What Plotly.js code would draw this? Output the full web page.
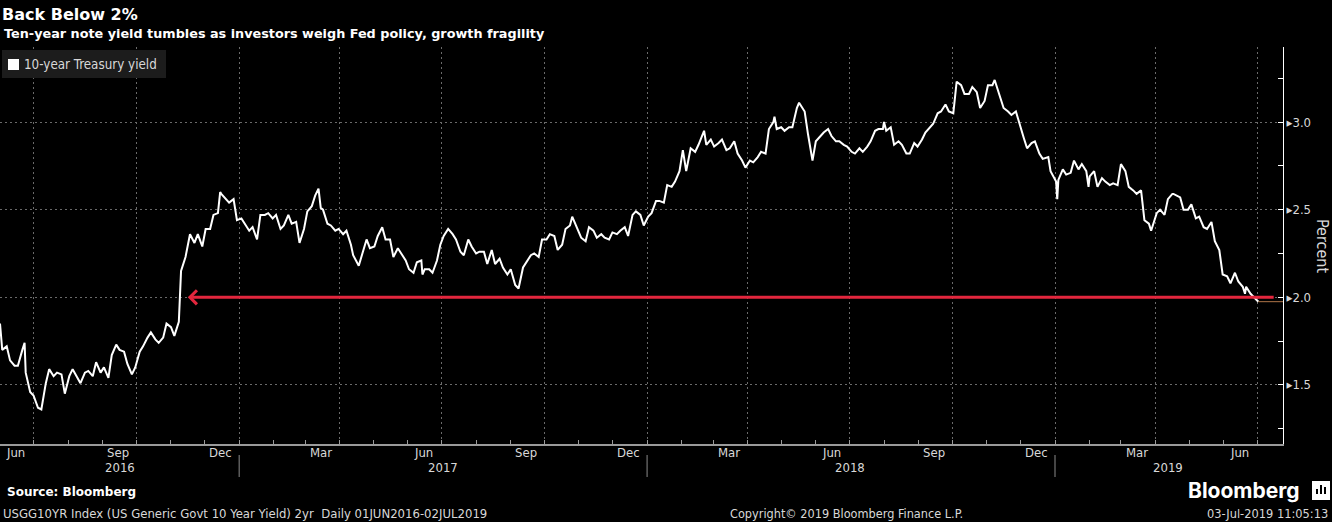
<!DOCTYPE html>
<html>
<head>
<meta charset="utf-8">
<script src="https://cdn.plot.ly/plotly-3.0.1.min.js"></script>
<style>
  html, body { margin: 0; padding: 0; background: #000; }
  #chart { width: 1332px; height: 522px; }
</style>
</head>
<body>
<div id="chart"></div>
<script>
// 10-year Treasury yield (roughly twice a week)
const dates = [
  // 2016
  '2016-06-01','2016-06-03','2016-06-07','2016-06-10','2016-06-14','2016-06-17','2016-06-21','2016-06-23','2016-06-24','2016-06-28',
  '2016-07-01','2016-07-05','2016-07-08','2016-07-12','2016-07-15','2016-07-19','2016-07-22','2016-07-26','2016-07-29',
  '2016-08-02','2016-08-05','2016-08-09','2016-08-12','2016-08-16','2016-08-19','2016-08-23','2016-08-26','2016-08-30',
  '2016-09-02','2016-09-06','2016-09-09','2016-09-13','2016-09-16','2016-09-20','2016-09-23','2016-09-27','2016-09-30',
  '2016-10-04','2016-10-07','2016-10-11','2016-10-14','2016-10-18','2016-10-21','2016-10-25','2016-10-28',
  '2016-11-01','2016-11-04','2016-11-08','2016-11-09','2016-11-10','2016-11-14','2016-11-18','2016-11-22','2016-11-25','2016-11-29',
  '2016-12-02','2016-12-06','2016-12-09','2016-12-13','2016-12-15','2016-12-16','2016-12-20','2016-12-23','2016-12-27','2016-12-30',
  // 2017
  '2017-01-03','2017-01-06','2017-01-10','2017-01-13','2017-01-17','2017-01-20','2017-01-24','2017-01-27','2017-01-31',
  '2017-02-03','2017-02-07','2017-02-10','2017-02-14','2017-02-17','2017-02-21','2017-02-24','2017-02-28',
  '2017-03-03','2017-03-07','2017-03-10','2017-03-13','2017-03-15','2017-03-17','2017-03-21','2017-03-24','2017-03-28','2017-03-31',
  '2017-04-04','2017-04-07','2017-04-11','2017-04-13','2017-04-18','2017-04-21','2017-04-25','2017-04-28',
  '2017-05-02','2017-05-05','2017-05-09','2017-05-12','2017-05-16','2017-05-19','2017-05-23','2017-05-26','2017-05-30',
  '2017-06-02','2017-06-06','2017-06-09','2017-06-13','2017-06-14','2017-06-16','2017-06-20','2017-06-23','2017-06-27','2017-06-30',
  '2017-07-03','2017-07-07','2017-07-11','2017-07-14','2017-07-18','2017-07-21','2017-07-25','2017-07-28',
  '2017-08-01','2017-08-04','2017-08-08','2017-08-11','2017-08-15','2017-08-18','2017-08-22','2017-08-25','2017-08-29',
  '2017-09-01','2017-09-05','2017-09-08','2017-09-12','2017-09-15','2017-09-19','2017-09-22','2017-09-26','2017-09-29',
  '2017-10-03','2017-10-06','2017-10-10','2017-10-13','2017-10-17','2017-10-20','2017-10-24','2017-10-26','2017-10-31',
  '2017-11-03','2017-11-07','2017-11-10','2017-11-14','2017-11-17','2017-11-21','2017-11-24','2017-11-28',
  '2017-12-01','2017-12-05','2017-12-08','2017-12-12','2017-12-15','2017-12-19','2017-12-22','2017-12-26','2017-12-29',
  // 2018
  '2018-01-02','2018-01-05','2018-01-09','2018-01-12','2018-01-16','2018-01-19','2018-01-23','2018-01-26','2018-01-30',
  '2018-02-02','2018-02-05','2018-02-09','2018-02-13','2018-02-16','2018-02-21','2018-02-23','2018-02-27',
  '2018-03-02','2018-03-06','2018-03-09','2018-03-13','2018-03-16','2018-03-20','2018-03-23','2018-03-27','2018-03-30',
  '2018-04-03','2018-04-06','2018-04-10','2018-04-13','2018-04-17','2018-04-20','2018-04-24','2018-04-25','2018-04-27',
  '2018-05-01','2018-05-04','2018-05-08','2018-05-11','2018-05-15','2018-05-17','2018-05-22','2018-05-25','2018-05-29',
  '2018-06-01','2018-06-05','2018-06-08','2018-06-12','2018-06-15','2018-06-19','2018-06-22','2018-06-26','2018-06-29',
  '2018-07-03','2018-07-06','2018-07-10','2018-07-13','2018-07-17','2018-07-20','2018-07-24','2018-07-27','2018-07-31',
  '2018-08-01','2018-08-03','2018-08-07','2018-08-10','2018-08-14','2018-08-17','2018-08-21','2018-08-24','2018-08-28','2018-08-31',
  '2018-09-04','2018-09-07','2018-09-11','2018-09-14','2018-09-18','2018-09-21','2018-09-25','2018-09-28',
  '2018-10-02','2018-10-05','2018-10-09','2018-10-12','2018-10-16','2018-10-19','2018-10-23','2018-10-26','2018-10-30',
  '2018-11-02','2018-11-06','2018-11-08','2018-11-13','2018-11-16','2018-11-20','2018-11-23','2018-11-27','2018-11-30',
  '2018-12-04','2018-12-07','2018-12-11','2018-12-14','2018-12-18','2018-12-21','2018-12-26','2018-12-28','2018-12-31',
  // 2019
  '2019-01-02','2019-01-03','2019-01-04','2019-01-08','2019-01-11','2019-01-15','2019-01-18','2019-01-22','2019-01-25','2019-01-29','2019-01-31',
  '2019-02-01','2019-02-05','2019-02-08','2019-02-12','2019-02-15','2019-02-19','2019-02-22','2019-02-26','2019-02-28',
  '2019-03-01','2019-03-05','2019-03-08','2019-03-12','2019-03-15','2019-03-19','2019-03-22','2019-03-26','2019-03-28',
  '2019-04-02','2019-04-05','2019-04-09','2019-04-12','2019-04-16','2019-04-17','2019-04-23','2019-04-26','2019-04-30',
  '2019-05-03','2019-05-07','2019-05-10','2019-05-14','2019-05-17','2019-05-21','2019-05-24','2019-05-28','2019-05-31',
  '2019-06-04','2019-06-07','2019-06-11','2019-06-14','2019-06-18','2019-06-20','2019-06-21','2019-06-25','2019-06-28',
  '2019-07-02'
];

const yields = [
  // 2016
  1.85,1.70,1.72,1.64,1.61,1.61,1.70,1.74,1.57,1.46,
  1.44,1.37,1.36,1.51,1.59,1.55,1.57,1.56,1.45,
  1.55,1.59,1.54,1.51,1.57,1.58,1.55,1.63,1.57,
  1.60,1.54,1.67,1.73,1.70,1.69,1.62,1.56,1.60,
  1.69,1.72,1.77,1.80,1.76,1.74,1.77,1.85,
  1.83,1.78,1.86,2.07,2.15,2.23,2.36,2.31,2.36,2.29,
  2.39,2.39,2.47,2.48,2.60,2.59,2.56,2.54,2.56,2.44,
  // 2017
  2.45,2.42,2.38,2.40,2.33,2.47,2.47,2.48,2.45,
  2.47,2.39,2.41,2.47,2.42,2.43,2.31,2.39,
  2.49,2.52,2.58,2.62,2.51,2.50,2.42,2.41,2.38,2.39,
  2.36,2.38,2.30,2.24,2.18,2.24,2.33,2.28,
  2.29,2.35,2.40,2.33,2.33,2.23,2.28,2.25,2.21,
  2.16,2.14,2.20,2.21,2.13,2.16,2.16,2.14,2.21,2.30,
  2.35,2.39,2.36,2.33,2.26,2.24,2.33,2.29,
  2.25,2.26,2.26,2.19,2.27,2.19,2.22,2.17,2.13,
  2.16,2.07,2.05,2.17,2.20,2.24,2.25,2.23,2.33,
  2.33,2.36,2.35,2.27,2.30,2.39,2.41,2.46,2.38,
  2.34,2.32,2.40,2.38,2.34,2.36,2.34,2.33,
  2.37,2.36,2.38,2.40,2.35,2.47,2.49,2.47,2.41,
  // 2018
  2.46,2.48,2.55,2.55,2.54,2.64,2.63,2.66,2.72,
  2.84,2.72,2.85,2.83,2.87,2.95,2.87,2.90,
  2.86,2.88,2.90,2.84,2.85,2.89,2.82,2.78,2.74,
  2.78,2.77,2.80,2.83,2.82,2.96,3.00,3.03,2.96,
  2.97,2.95,2.97,2.97,3.08,3.11,3.06,2.93,2.78,
  2.89,2.92,2.94,2.96,2.92,2.89,2.89,2.87,2.86,
  2.83,2.82,2.85,2.83,2.86,2.89,2.95,2.96,2.96,
  3.00,2.95,2.97,2.87,2.89,2.87,2.82,2.82,2.88,2.86,
  2.90,2.94,2.97,2.99,3.05,3.06,3.10,3.06,
  3.05,3.23,3.21,3.16,3.16,3.20,3.17,3.08,3.12,
  3.21,3.21,3.24,3.14,3.08,3.06,3.04,3.06,2.99,
  2.91,2.85,2.88,2.89,2.82,2.79,2.80,2.72,2.68,
  // 2019
  2.66,2.56,2.67,2.73,2.70,2.71,2.78,2.73,2.76,2.72,2.63,
  2.69,2.72,2.63,2.68,2.66,2.64,2.65,2.64,2.72,
  2.76,2.72,2.63,2.61,2.59,2.61,2.44,2.42,2.38,
  2.48,2.50,2.47,2.56,2.59,2.59,2.57,2.50,2.50,
  2.53,2.45,2.46,2.40,2.39,2.43,2.32,2.27,2.13,
  2.12,2.08,2.14,2.09,2.06,2.02,2.06,2.02,2.00,
  1.975
];

// axis labels
const monthLabelDates = ['2016-06-15','2016-09-15','2016-12-15','2017-03-15','2017-06-15','2017-09-15',
  '2017-12-15','2018-03-15','2018-06-15','2018-09-15','2018-12-15','2019-03-15','2019-06-15'];
const monthLabels = ['Jun','Sep','Dec','Mar','Jun','Sep','Dec','Mar','Jun','Sep','Dec','Mar','Jun'];
const yearLabelDates = ['2016-09-16','2017-07-02','2018-07-02','2019-04-12'];
const yearLabels = ['2016','2017','2018','2019'];
const yearBreaks = ['2017-01-01','2018-01-01','2019-01-01'];
const quarterTicks = ['2016-07-01','2016-10-01','2017-01-01','2017-04-01','2017-07-01','2017-10-01',
  '2018-01-01','2018-04-01','2018-07-01','2018-10-01','2019-01-01','2019-04-01','2019-07-01'];
const yTicks = [1.5, 2.0, 2.5, 3.0];

const threshold = 2.0;
const arrowHead = '2016-11-16';
const arrowTail = '2019-07-17';
const xStart = '2016-06-01';
const xEnd = '2019-07-24';

// pixel helpers for things placed around the plot area
const plotLeft = 0, plotRight = 1283, plotTop = 47, plotBottom = 444;
function px(x) { return (x - plotLeft) / (plotRight - plotLeft); }
function py(y) { return (plotBottom - y) / (plotBottom - plotTop); }

const labelFont = 'DejaVu Sans Condensed, Liberation Sans Narrow, DejaVu Sans, sans-serif';
const boldFont = 'DejaVu Sans, Liberation Sans, sans-serif';
const textColor = '#d8d8d8';

let yieldTrace = {
  x: dates,
  y: yields,
  type: 'scatter',
  mode: 'lines',
  name: '10-year Treasury yield',
  line: { color: '#ffffff', width: 2 },
  showlegend: false,
  hoverinfo: 'x+y'
};

let annotations = [];

// month labels under the axis
monthLabelDates.forEach((d, i) => {
  annotations.push({
    x: d, xref: 'x', y: py(452), yref: 'paper', text: monthLabels[i],
    showarrow: false, xanchor: 'center', yanchor: 'middle',
    font: { family: labelFont, size: 13, color: textColor }
  });
});
// year labels
yearLabelDates.forEach((d, i) => {
  annotations.push({
    x: d, xref: 'x', y: py(467), yref: 'paper', text: yearLabels[i],
    showarrow: false, xanchor: 'center', yanchor: 'middle',
    font: { family: labelFont, size: 13, color: textColor }
  });
});

// red arrow at 2%
annotations.push({
  x: arrowHead, y: threshold, xref: 'x', yref: 'y',
  ax: arrowTail, ay: threshold, axref: 'x', ayref: 'y',
  text: '', showarrow: true, arrowhead: 4, arrowsize: 0.9, arrowwidth: 3,
  arrowcolor: '#e3263d', standoff: 0
});

// subtitle
annotations.push({
  x: px(2), y: py(33), xref: 'paper', yref: 'paper', xanchor: 'left', yanchor: 'middle',
  text: '<b>Ten-year note yield tumbles as investors weigh Fed policy, growth fragility</b>',
  showarrow: false, font: { family: boldFont, size: 12.8, color: '#ffffff' }
});

// legend text
annotations.push({
  x: px(22), y: py(64), xref: 'paper', yref: 'paper', xanchor: 'left', yanchor: 'middle',
  text: '10-year Treasury yield', showarrow: false,
  font: { family: labelFont, size: 13.3, color: textColor }
});

// right axis title
annotations.push({
  x: px(1322), y: py(246), xref: 'paper', yref: 'paper', xanchor: 'center', yanchor: 'middle',
  text: 'Percent', textangle: 90, showarrow: false,
  font: { family: labelFont, size: 16, color: textColor }
});

// footer
annotations.push({
  x: px(5), y: py(492), xref: 'paper', yref: 'paper', xanchor: 'left', yanchor: 'middle',
  text: '<b>Source: Bloomberg</b>', showarrow: false,
  font: { family: boldFont, size: 12, color: '#ffffff' }
});
annotations.push({
  x: px(1), y: py(513), xref: 'paper', yref: 'paper', xanchor: 'left', yanchor: 'middle',
  text: 'USGG10YR Index (US Generic Govt 10 Year Yield) 2yr  Daily 01JUN2016-02JUL2019', showarrow: false,
  font: { family: labelFont, size: 13, color: textColor }
});
annotations.push({
  x: px(846), y: py(513), xref: 'paper', yref: 'paper', xanchor: 'center', yanchor: 'middle',
  text: 'Copyright\u00A9 2019 Bloomberg Finance L.P.', showarrow: false,
  font: { family: labelFont, size: 12.6, color: textColor }
});
annotations.push({
  x: px(1330), y: py(513), xref: 'paper', yref: 'paper', xanchor: 'right', yanchor: 'middle',
  text: '03-Jul-2019 11:05:13', showarrow: false,
  font: { family: labelFont, size: 12.7, color: textColor }
});
annotations.push({
  x: px(1302), y: py(490), xref: 'paper', yref: 'paper', xanchor: 'right', yanchor: 'middle',
  text: '<b>Bloomberg</b>', showarrow: false,
  font: { family: 'Inter, Roboto, sans-serif', size: 21, color: '#ffffff' }
});

let shapes = [
  // legend box and swatch
  { type: 'rect', xref: 'paper', yref: 'paper', x0: px(2), x1: px(166), y0: py(78), y1: py(50),
    fillcolor: '#1c1c1c', line: { width: 0 }, layer: 'above' },
  { type: 'rect', xref: 'paper', yref: 'paper', x0: px(8), x1: px(19), y0: py(70), y1: py(59),
    fillcolor: '#ffffff', line: { width: 0 }, layer: 'above' },
  // last value line
  { type: 'line', xref: 'x', yref: 'y', x0: dates[dates.length - 1], x1: xEnd,
    y0: yields[yields.length - 1], y1: yields[yields.length - 1],
    line: { color: '#b07548', width: 1 } },
  // logo icon
  { type: 'rect', xref: 'paper', yref: 'paper', x0: px(1312), x1: px(1330), y0: py(500), y1: py(481),
    fillcolor: '#ffffff', line: { width: 0 } },
  { type: 'rect', xref: 'paper', yref: 'paper', x0: px(1316), x1: px(1318), y0: py(494), y1: py(489),
    fillcolor: '#000000', line: { width: 0 } },
  { type: 'rect', xref: 'paper', yref: 'paper', x0: px(1320), x1: px(1322), y0: py(494), y1: py(485),
    fillcolor: '#000000', line: { width: 0 } },
  { type: 'rect', xref: 'paper', yref: 'paper', x0: px(1324), x1: px(1326), y0: py(494), y1: py(487),
    fillcolor: '#000000', line: { width: 0 } }
];

// year separators under the axis
yearBreaks.forEach(d => {
  shapes.push({ type: 'line', xref: 'x', yref: 'paper', x0: d, x1: d, y0: py(455), y1: py(477),
    line: { color: '#8a8a8a', width: 1 } });
});

let layout = {
  width: 1332,
  height: 522,
  paper_bgcolor: '#000000',
  plot_bgcolor: '#000000',
  margin: { l: plotLeft, r: 1332 - plotRight, t: plotTop, b: 522 - plotBottom, pad: 0 },
  title: {
    text: '<b>Back Below 2%</b>',
    x: 2 / 1332, xref: 'container', xanchor: 'left',
    y: 1 - 14 / 522, yref: 'container', yanchor: 'middle',
    font: { family: boldFont, size: 16, color: '#ffffff' }
  },
  showlegend: false,
  xaxis: {
    type: 'date',
    range: [xStart, xEnd],
    showline: true, linecolor: '#9a9a9a', linewidth: 1.5,
    tickmode: 'array', tickvals: quarterTicks, showticklabels: false,
    ticks: 'inside', ticklen: 4, tickcolor: '#9a9a9a',
    showgrid: true, gridcolor: '#6a6a6a', griddash: '2px,3px', gridwidth: 1,
    minor: { dtick: 'M1', tick0: xStart, ticks: 'inside', ticklen: 4, tickcolor: '#9a9a9a', showgrid: false },
    zeroline: false, fixedrange: true
  },
  yaxis: {
    side: 'right',
    range: [1.163, 3.428],
    showline: true, linecolor: '#ffffff', linewidth: 1,
    tickmode: 'array', tickvals: yTicks, ticktext: yTicks.map(v => '\u25B8' + v.toFixed(1)),
    ticks: '', ticklabelstandoff: 0,
    tickfont: { family: labelFont, size: 13, color: textColor },
    showgrid: true, gridcolor: '#6a6a6a', griddash: '2px,3px', gridwidth: 1,
    minor: { dtick: 0.25, tick0: 0, ticks: 'inside', ticklen: 5, tickcolor: '#ffffff', showgrid: false },
    zeroline: false, fixedrange: true
  },
  annotations: annotations,
  shapes: shapes
};

Plotly.newPlot('chart', [yieldTrace], layout, { displayModeBar: false, staticPlot: true });
</script>
</body>
</html>
